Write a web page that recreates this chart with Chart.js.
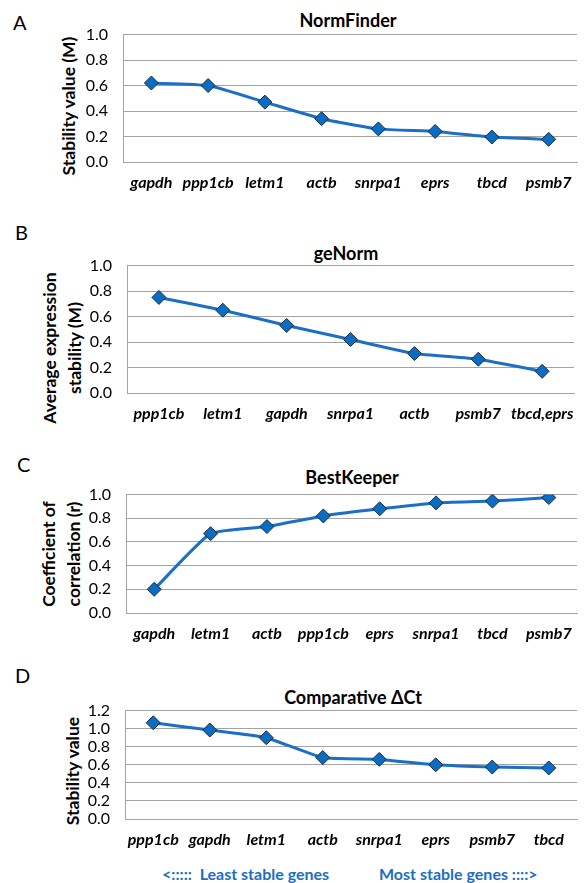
<!DOCTYPE html>
<html>
<head>
<meta charset="utf-8">
<script src="https://cdn.jsdelivr.net/npm/chart.js@4.4.1/dist/chart.umd.min.js"></script>
<style>
  body { margin: 0; width: 585px; height: 883px; overflow: hidden; background: #fff; font-family: Lato, sans-serif; color: #000; }
  .abs { position: absolute; white-space: nowrap; }
  .letter { font-size: 20px; line-height: 24px; }
  .ttl { font-size: 18px; font-weight: bold; line-height: 22px; transform: translateX(-50%); }
  .ytl { font-size: 17.5px; font-weight: bold; line-height: 25px; text-align: center; transform: translate(-50%, -50%) rotate(-90deg); }
  .note { font-size: 16px; font-weight: bold; color: #1a6fc4; line-height: 20px; }
  canvas { position: absolute; left: 0; }
</style>
</head>
<body>
<div class="abs letter" style="left:13px;top:10px">A</div>
<div class="abs letter" style="left:15px;top:220px">B</div>
<div class="abs letter" style="left:17px;top:452px">C</div>
<div class="abs letter" style="left:15px;top:663px">D</div>

<div class="abs ttl" style="left:348px;top:9px">NormFinder</div>
<div class="abs ttl" style="left:346px;top:242px">geNorm</div>
<div class="abs ttl" style="left:352px;top:466px">BestKeeper</div>
<div class="abs ttl" style="left:353px;top:686px">Comparative ΔCt</div>

<div class="abs ytl" style="left:68px;top:106px">Stability value (M)</div>
<div class="abs ytl" style="left:62px;top:348px">Average expression<br>stability (M)</div>
<div class="abs ytl" style="left:61px;top:554px">Coefficient of<br>correlation (r)</div>
<div class="abs ytl" style="left:72px;top:771px">Stability value</div>

<canvas id="cA" width="585" height="182" style="top:10px"></canvas>
<canvas id="cB" width="585" height="182" style="top:241px"></canvas>
<canvas id="cC" width="585" height="173" style="top:470px"></canvas>
<canvas id="cD" width="585" height="163" style="top:686px"></canvas>

<div class="abs note" style="left:162px;top:864px">&lt;:::::&nbsp; Least stable genes</div>
<div class="abs note" style="left:379px;top:864px">Most stable genes ::::&gt;</div>

<script>
// NormFinder
const genesA = ["gapdh", "ppp1cb", "letm1", "actb", "snrpa1", "eprs", "tbcd", "psmb7"];
const valuesA = [0.62, 0.60, 0.47, 0.34, 0.26, 0.24, 0.196, 0.178];
// geNorm
const genesB = ["ppp1cb", "letm1", "gapdh", "snrpa1", "actb", "psmb7", "tbcd,eprs"];
const valuesB = [0.75, 0.65, 0.53, 0.42, 0.31, 0.265, 0.17];
// BestKeeper
const genesC = ["gapdh", "letm1", "actb", "ppp1cb", "eprs", "snrpa1", "tbcd", "psmb7"];
const valuesC = [0.20, 0.67, 0.73, 0.82, 0.88, 0.93, 0.945, 0.975];
// Comparative delta Ct
const genesD = ["ppp1cb", "gapdh", "letm1", "actb", "snrpa1", "eprs", "psmb7", "tbcd"];
const valuesD = [1.065, 0.985, 0.90, 0.68, 0.66, 0.60, 0.575, 0.565];

const yMaxABC = 1.0;
const yMaxD = 1.2;
const yStep = 0.2;

const gridGray = "#a3a3a3";
const lineBlue = "#1c6fc6";

function makePanel(id, genes, values, yMax, axisLeft, padRight) {
  return new Chart(document.getElementById(id), {
    type: "line",
    data: {
      labels: genes,
      datasets: [{
        data: values,
        borderColor: lineBlue,
        borderWidth: 3,
        tension: 0.15,
        pointStyle: "rectRot",
        pointRadius: 7,
        pointBackgroundColor: "#0b6cc3",
        pointBorderColor: "#1d2b3a",
        pointBorderWidth: 1,
      }],
    },
    options: {
      responsive: false,
      animation: false,
      devicePixelRatio: 1,
      layout: { padding: { top: 12, right: padRight, bottom: 0, left: 0 } },
      plugins: { legend: { display: false }, tooltip: { enabled: false } },
      scales: {
        x: {
          offset: true,
          grid: { display: false, drawTicks: false },
          border: { color: gridGray },
          ticks: {
            padding: 11,
            color: "#000",
            maxRotation: 0,
            autoSkip: false,
            font: { family: "Lato", size: 16, weight: "bold", style: "italic" },
          },
          afterFit: (s) => { s.height = 30; },
        },
        y: {
          min: 0,
          max: yMax,
          grid: { color: gridGray, drawTicks: false },
          border: { color: gridGray },
          ticks: {
            stepSize: yStep,
            autoSkip: false,
            padding: 15,
            color: "#000",
            font: { family: "Lato", size: 16 },
            callback: (v) => v.toFixed(1),
          },
          afterFit: (s) => { s.width = axisLeft; },
        },
      },
    },
  });
}

makePanel("cA", genesA, valuesA, yMaxABC, 123, 0);
makePanel("cB", genesB, valuesB, yMaxABC, 127, 0);
makePanel("cC", genesC, valuesC, yMaxABC, 126, 7);
makePanel("cD", genesD, valuesD, yMaxD, 125, 0);
</script>
</body>
</html>
